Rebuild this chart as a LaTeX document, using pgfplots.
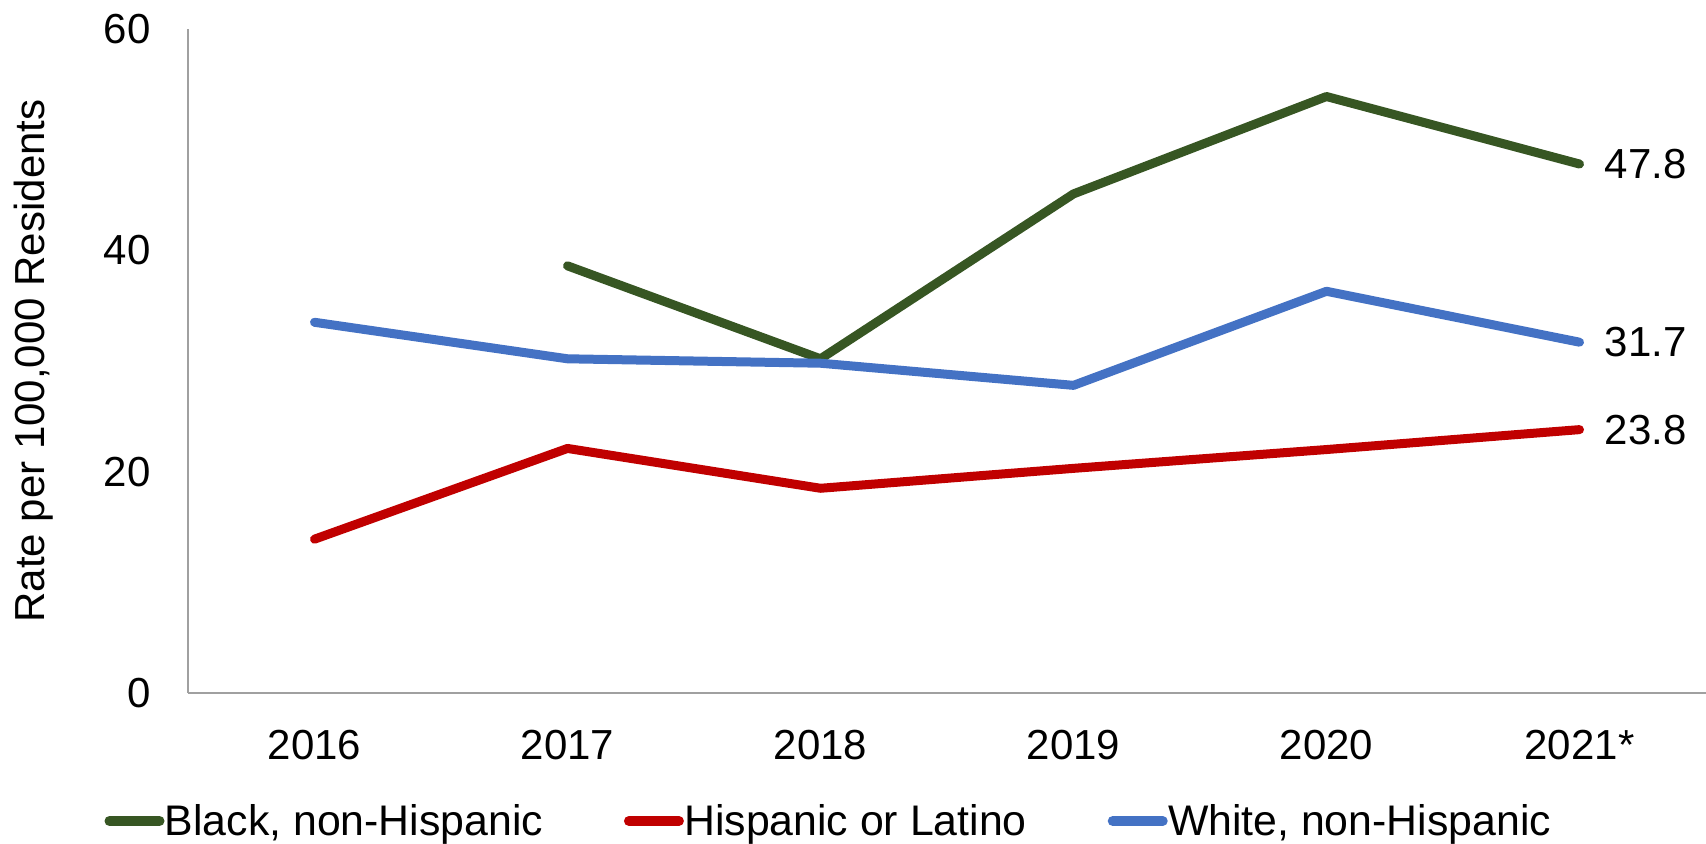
\documentclass[border=0pt]{standalone}
\usepackage{fontspec}
\setmainfont{Liberation Sans}
\usepackage{pgfplots}
\pgfplotsset{compat=1.18}
\definecolor{cgreen}{HTML}{375623}
\definecolor{cred}{HTML}{C00000}
\definecolor{cblue}{HTML}{4472C4}
\definecolor{caxis}{HTML}{A0A0A0}
\newcommand{\cf}{\fontsize{21}{25.2}\selectfont}
\newcommand{\lf}{\fontsize{21.4}{25.7}\selectfont}
\begin{document}
\begin{tikzpicture}
\useasboundingbox (0,0) rectangle (853pt,421.5pt);
\begin{axis}[
  at={(94pt,75pt)}, anchor=south west,
  width=759pt, height=332pt, scale only axis,
  xmin=-0.5, xmax=5.5, ymin=0, ymax=60,
  clip=false,
  axis lines*=left,
  axis line style={draw=caxis, line width=1pt},
  xtick={0,1,2,3,4,5},
  xticklabels={2016,2017,2018,2019,2020,2021*},
  ytick={0,20,40,60},
  major tick length=0pt,
  tick label style={font=\cf},
  xticklabel style={anchor=north, inner sep=0pt, yshift=-18.5pt},
  yticklabel style={anchor=east, inner sep=0pt, xshift=-18.5pt},
  /pgf/number format/assume math mode=true,
  ylabel={Rate per 100,000 Residents},
  ylabel style={at={(axis description cs:-0.10145,0.5)}, anchor=center, inner sep=0pt, font=\cf},
  legend columns=3,
  legend cell align=left,
  legend style={at={(axis description cs:-0.05797,-0.19277)}, anchor=west,
    draw=none, fill=none, inner sep=0pt, outer sep=0pt,
    nodes={inner sep=0pt, font=\lf},
    /tikz/every even column/.append style={column sep=38.2pt},
    /tikz/every odd column/.append style={column sep=-2.1pt}},
  legend image code/.code={\path (0pt,0pt) (30pt,0pt); \draw[#1, line width=5pt, line cap=round] (2.5pt,0pt) -- (27.5pt,0pt);},
]
\addplot[cgreen, line width=4.5pt, line cap=round, line join=round] coordinates {
  (1,38.6) (2,30.2) (3,45.1) (4,53.9) (5,47.8)};
\addlegendentry{Black, non-Hispanic}
\addplot[cred, line width=4.5pt, line cap=round, line join=round] coordinates {
  (0,13.9) (1,22.1) (2,18.5) (3,20.3) (4,22.0) (5,23.8)};
\addlegendentry{Hispanic or Latino}
\addplot[cblue, line width=4.5pt, line cap=round, line join=round] coordinates {
  (0,33.5) (1,30.2) (2,29.8) (3,27.8) (4,36.3) (5,31.7)};
\addlegendentry{White, non-Hispanic}
\addplot[draw=none, forget plot, nodes near coords, point meta=y,
  every node near coord/.append style={anchor=west, xshift=12.5pt, inner sep=0pt, font=\cf}]
  coordinates {(5,47.8) (5,31.7) (5,23.8)};
\end{axis}
\end{tikzpicture}
\end{document}
